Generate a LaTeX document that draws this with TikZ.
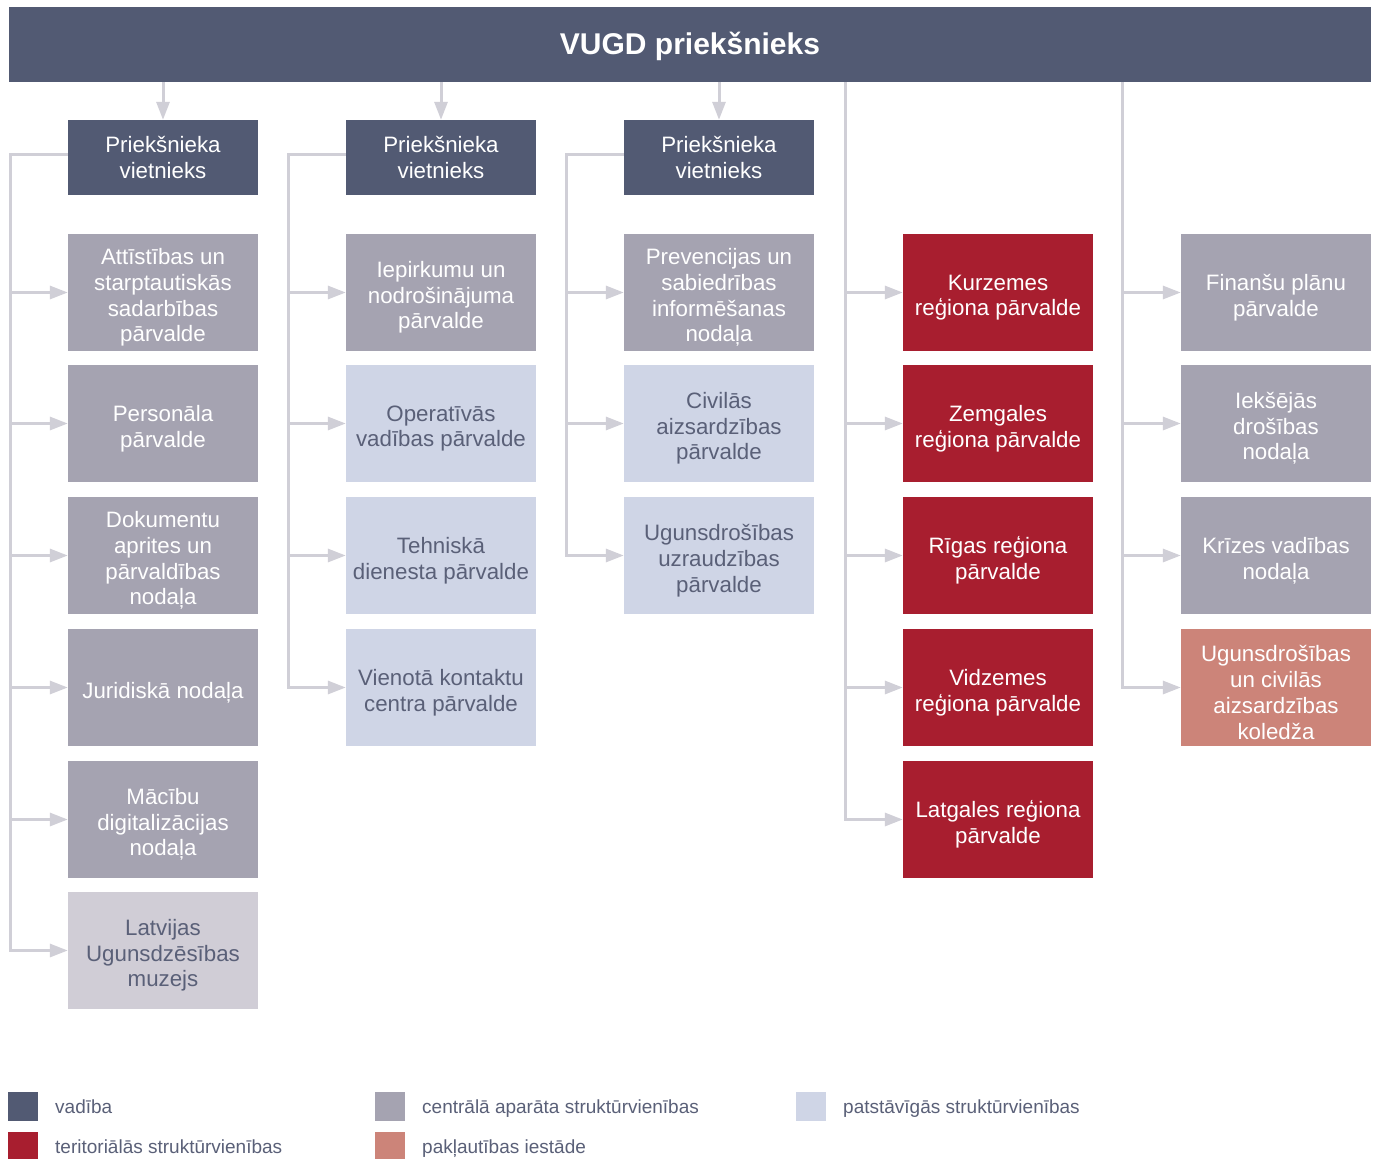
\documentclass[tikz,border=0pt]{standalone}
\usepackage{fontspec}
\setmainfont{Liberation Sans}
\usetikzlibrary{arrows.meta}
\definecolor{cdark}{HTML}{525A73}
\definecolor{cgray}{HTML}{A5A3B1}
\definecolor{cblue}{HTML}{CFD5E6}
\definecolor{cred}{HTML}{A81E2F}
\definecolor{csalmon}{HTML}{CC8479}
\definecolor{cmus}{HTML}{D0CDD6}
\definecolor{cline}{HTML}{D0CFD7}
\definecolor{ctext}{HTML}{5A6078}
% #1 box style, #2 name, #3 position, #4 text colour, #5 text
\newcommand\orgbox[5]{%
  \node[#1] (#2) at (#3) {};
  \node[lbl,text=#4] (#2t) at ([yshift=-5pt]#2.center) {#5};}
\begin{document}
\begin{tikzpicture}[x=1pt,y=-1pt,
  box/.style={minimum width=190pt,minimum height=117pt,inner sep=0pt},
  lbl/.style={inner sep=0pt,align=center,font=\fontsize{22.3}{25.7}\selectfont},
  deputy/.style={box,fill=cdark,text=white,minimum height=75pt,align=center,
    font=\fontsize{22.3}{25.7}\selectfont},
  central/.style={box,fill=cgray},
  indep/.style={box,fill=cblue},
  terr/.style={box,fill=cred},
  sub/.style={box,fill=csalmon},
  museum/.style={box,fill=cmus},
  conn/.style={draw=cline,line width=3pt},
  arr/.style={conn,-{Triangle[length=18pt,width=13pt]}},
  legsq/.style={minimum width=30pt,minimum height=29pt,inner sep=0pt},
  legtx/.style={anchor=base west,inner sep=0pt,text=ctext,font=\fontsize{19}{22}\selectfont}]
\useasboundingbox (0,0) rectangle (1376,1159);
\fill[white] (0,0) rectangle (1376,1159);

\node[fill=cdark,text=white,minimum width=1362pt,minimum height=75pt,inner sep=0pt,
  text height=24pt,text depth=4pt,
  font=\fontsize{30}{34}\selectfont\bfseries] (top) at (690,44.5) {VUGD priekšnieks};

% deputies
\node[deputy] (d1) at (163,157.5) {Priekšnieka\\vietnieks};
\node[deputy] (d2) at (441,157.5) {Priekšnieka\\vietnieks};
\node[deputy] (d3) at (719,157.5) {Priekšnieka\\vietnieks};

% column 1
\orgbox{central}{a1}{163,292.5}{white}{Attīstības un\\starptautiskās\\sadarbības\\pārvalde}
\orgbox{central}{a2}{163,423.5}{white}{Personāla\\pārvalde}
\orgbox{central}{a3}{163,555.5}{white}{Dokumentu\\aprites un\\pārvaldības\\nodaļa}
\orgbox{central}{a4}{163,687.5}{white}{Juridiskā nodaļa}
\orgbox{central}{a5}{163,819.5}{white}{Mācību\\digitalizācijas\\nodaļa}
\orgbox{museum}{a6}{163,950.5}{ctext}{Latvijas\\Ugunsdzēsības\\muzejs}

% column 2
\orgbox{central}{b1}{441,292.5}{white}{Iepirkumu un\\nodrošinājuma\\pārvalde}
\orgbox{indep}{b2}{441,423.5}{ctext}{Operatīvās\\vadības pārvalde}
\orgbox{indep}{b3}{441,555.5}{ctext}{Tehniskā\\dienesta pārvalde}
\orgbox{indep}{b4}{441,687.5}{ctext}{Vienotā kontaktu\\centra pārvalde}

% column 3
\orgbox{central}{c1}{719,292.5}{white}{Prevencijas un\\sabiedrības\\informēšanas\\nodaļa}
\orgbox{indep}{c2}{719,423.5}{ctext}{Civilās\\aizsardzības\\pārvalde}
\orgbox{indep}{c3}{719,555.5}{ctext}{Ugunsdrošības\\uzraudzības\\pārvalde}

% column 4
\orgbox{terr}{r1}{998,292.5}{white}{Kurzemes\\reģiona pārvalde}
\orgbox{terr}{r2}{998,423.5}{white}{Zemgales\\reģiona pārvalde}
\orgbox{terr}{r3}{998,555.5}{white}{Rīgas reģiona\\pārvalde}
\orgbox{terr}{r4}{998,687.5}{white}{Vidzemes\\reģiona pārvalde}
\orgbox{terr}{r5}{998,819.5}{white}{Latgales reģiona\\pārvalde}

% column 5
\orgbox{central}{e1}{1276,292.5}{white}{Finanšu plānu\\pārvalde}
\orgbox{central}{e2}{1276,423.5}{white}{Iekšējās\\drošības\\nodaļa}
\orgbox{central}{e3}{1276,555.5}{white}{Krīzes vadības\\nodaļa}
\orgbox{sub}{e4}{1276,687.5}{white}{Ugunsdrošības\\un civilās\\aizsardzības\\koledža}

% trunk coordinates
\coordinate (t1) at (10,154);
\coordinate (t2) at (288,154);
\coordinate (t3) at (566,154);
\coordinate (t4) at (845,82);
\coordinate (t5) at (1122,82);

% top -> deputies
\foreach \d in {d1,d2,d3} \draw[arr] (top.south -| \d) -- (\d.north);

% connectors
\foreach \n in {a1,a2,a3,a4,a5,a6} \draw[arr] (d1.west |- t1) -- (t1) |- (\n.west);
\foreach \n in {b1,b2,b3,b4} \draw[arr] (d2.west |- t2) -- (t2) |- (\n.west);
\foreach \n in {c1,c2,c3} \draw[arr] (d3.west |- t3) -- (t3) |- (\n.west);
\foreach \n in {r1,r2,r3,r4,r5} \draw[arr] (t4) |- (\n.west);
\foreach \n in {e1,e2,e3,e4} \draw[arr] (t5) |- (\n.west);

% legend
\node[legsq,fill=cdark] (l1) at (23,1106.5) {};
\node[legtx] (lt1) at (55,1113) {vadība};
\node[legsq,fill=cred] (l2) at (23,1146.5) {};
\node[legtx] (lt2) at (55,1153) {teritoriālās struktūrvienības};
\node[legsq,fill=cgray] (l3) at (390,1106.5) {};
\node[legtx] (lt3) at (422,1113) {centrālā aparāta struktūrvienības};
\node[legsq,fill=csalmon] (l4) at (390,1146.5) {};
\node[legtx] (lt4) at (422,1153) {pakļautības iestāde};
\node[legsq,fill=cblue] (l5) at (811,1106.5) {};
\node[legtx] (lt5) at (843,1113) {patstāvīgās struktūrvienības};
\end{tikzpicture}
\end{document}
